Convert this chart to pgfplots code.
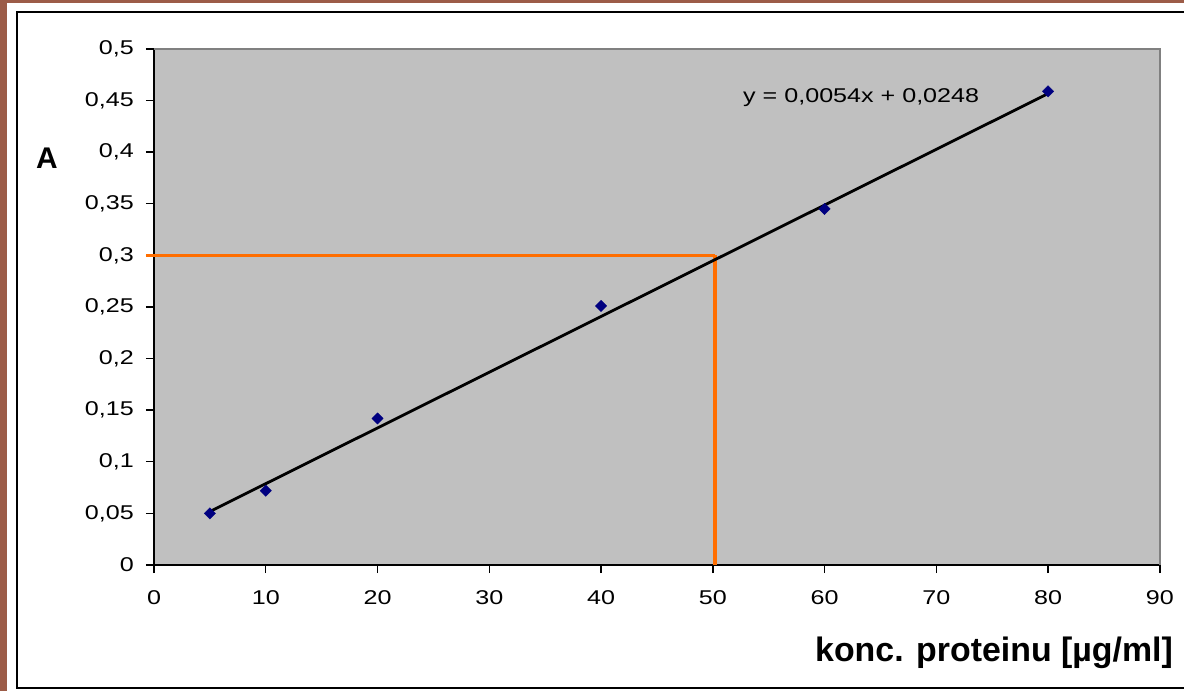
\documentclass[border=0pt]{standalone}
\usepackage{fontspec}
\setmainfont{Liberation Sans}
\newfontfamily\tickfont[FakeStretch=1.26]{Liberation Sans}
\usepackage{pgfplots}
\pgfplotsset{compat=1.18}

\definecolor{bgbrown}{RGB}{156,92,72}
\definecolor{plotgray}{RGB}{192,192,192}
\definecolor{bordergray}{RGB}{128,128,128}
\definecolor{navy}{RGB}{0,0,128}
\definecolor{lineorange}{RGB}{255,110,0}

\begin{document}
\begin{tikzpicture}
% page is 1184 x 691 bp, plot area south west corner at (0,0)
\useasboundingbox (-154bp,-126bp) rectangle (1030bp,565bp);
\fill[bgbrown] (-154bp,-126bp) rectangle (1030bp,565bp);
\fill[white] (-147bp,-126bp) rectangle (1030bp,562bp);
\draw[black,line width=1.5bp] (1031bp,553bp) -- (-137bp,553bp) -- (-137bp,-123bp) -- (1031bp,-123bp);

\begin{axis}[
    at={(0,0)}, anchor=south west,
    scale only axis,
    width=1006bp, height=516bp,
    xmin=0, xmax=90, ymin=0, ymax=0.5,
    axis x line*=bottom, axis y line*=left,
    axis line style={black, line width=1.8bp},
    axis background/.style={fill=plotgray},
    xtick={0,10,20,30,40,50,60,70,80,90},
    ytick={0,0.05,0.1,0.15,0.2,0.25,0.3,0.35,0.4,0.45,0.5},
    tick align=outside,
    major tick length=8bp,
    tick style={black, line width=1.4bp},
    minor tick num=0,
    /pgf/number format/assume math mode=true,
    /pgf/number format/.cd, use comma, fixed, precision=2, 1000 sep={},
    /pgfplots/.cd,
    tick label style={font=\tickfont\fontsize{20}{23}\selectfont, inner sep=0pt},
    yticklabel style={anchor=east, xshift=-12bp},
    xticklabel style={anchor=north, yshift=-17bp},
    clip=false,
]
% top and right frame of the plot area
\draw[bordergray, line width=1.8bp] (rel axis cs:0,1) -- (rel axis cs:1,1) -- (rel axis cs:1,0);

% reading lines
\addplot[lineorange, line width=3.5bp, no markers] coordinates {(-0.7,0.3) (50.2,0.3)};
\addplot[lineorange, line width=3.5bp, no markers] coordinates {(50.2,0.3) (50.2,0)};

% measured points
\addplot[only marks, mark=square*, mark size=4bp, mark options={rotate=45, fill=navy, draw=navy}] coordinates {
    (5,0.050) (10,0.072) (20,0.142) (40,0.251) (60,0.345) (80,0.459)
};

% linear trendline y = 0.0054x + 0.0248
\addplot[black, line width=2.8bp, no markers] coordinates {(5,0.0518) (80,0.4568)};
\end{axis}

\node[anchor=base west, inner sep=0pt, font=\tickfont\fontsize{20}{23}\selectfont] at (589bp,462bp) {y = 0,0054x + 0,0248};
\node[anchor=center, inner sep=0pt, font=\bfseries\fontsize{30}{34}\selectfont] at (-107bp,407bp) {A};
\node[anchor=base east, inner sep=0pt, font=\bfseries\fontsize{34}{38}\selectfont] at (1019bp,-96bp) {konc. proteinu [µg/ml]};
\end{tikzpicture}
\end{document}
